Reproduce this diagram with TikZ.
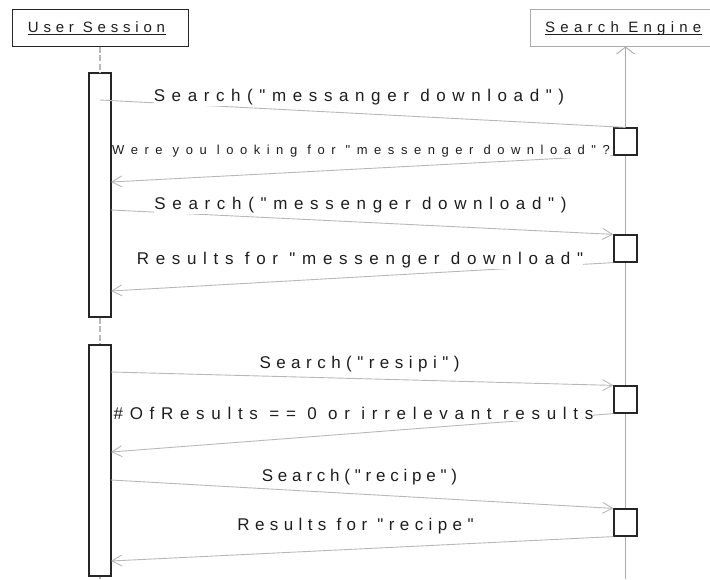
\documentclass[tikz,border=0pt]{standalone}
\usepackage{fontspec}
\setmainfont{Liberation Sans}
\newfontfamily\lblfont{Liberation Sans}
\usetikzlibrary{arrows.meta}
\definecolor{msggray}{HTML}{B8B8B8}
\definecolor{lifegray}{HTML}{ABABAB}
\definecolor{txt}{HTML}{1E1E1E}
\newcommand\lsset[1]{\addfontfeature{LetterSpace=#1}}
\tikzset{
  msg/.style={draw=msggray, line width=0.9pt},
  tipped/.style={-{Straight Barb[length=10pt,width=11pt,line width=0.9pt]}},
  lbl/.style={fill=white, inner xsep=0pt, inner ysep=1.5pt, anchor=base, text=txt,
    font=\lblfont\fontsize{17}{20}\selectfont},
  smalllbl/.style={lbl, font=\lblfont\fontsize{13}{15}\selectfont},
  act/.style={draw=black!85, fill=white, line width=1.2pt, minimum width=22pt, inner sep=0pt},
  headbox/.style={line width=1pt, inner sep=0pt, minimum height=37pt},
  headtxt/.style={inner sep=0pt, text=txt, anchor=base west, font=\lblfont\fontsize{15}{18}\selectfont},
  life/.style={draw=lifegray, line width=1.1pt},
  dashlife/.style={draw=msggray, line width=2.2pt, dash pattern=on 6pt off 2.5pt}
}
\begin{document}
\begin{tikzpicture}[x=1pt,y=-1pt]
\useasboundingbox (0,0) rectangle (710,579);
\clip (0,0) rectangle (710,579);
% header boxes
\node[headbox, draw=black!85, minimum width=176pt] (usb) at (100,27.5) {};
\node[headbox, draw=lifegray, minimum width=182pt] (seb) at (621,27.5) {};
\node[headtxt] (ust) at (27.7,32.3) {\lsset{32}User Session};
\node[headtxt] (set) at (545,32.3) {\lsset{35}Search Engine};
\draw[txt, line width=0.9pt] ([yshift=-2.2pt]ust.base west) -- ([yshift=-2.2pt,xshift=1pt]ust.base east);
\draw[txt, line width=0.9pt] ([yshift=-2.2pt]set.base west) -- ([yshift=-2.2pt]set.base east);
% coordinates
\coordinate (setop) at (625.5,46.5);
\coordinate (seend) at (625.5,579);
\coordinate (usend) at (100,579);
% activation boxes of User Session
\node[act, minimum height=244pt] (ua1) at (100,195) {};
\node[act, minimum height=231pt] (ua2) at (100,460.5) {};
% lifelines
\draw[life, {Straight Barb[length=7pt,width=18pt,line width=0.9pt]}-] (setop) -- (seend);
\draw[dashlife] (usb.south) -- (ua1.north);
\draw[dashlife] (ua1.south) -- (ua2.north);
\draw[dashlife] (ua2.south) -- (usend);
% activation boxes of Search Engine
\node[act, minimum width=23pt, minimum height=27pt] (e1) at (625.5,141.5) {};
\node[act, minimum width=23pt, minimum height=27pt] (e2) at (625.5,248.5) {};
\node[act, minimum width=23pt, minimum height=27pt] (e3) at (625.5,399.5) {};
\node[act, minimum width=23pt, minimum height=27pt] (e4) at (625.5,522.5) {};
% message endpoints
\coordinate (m1s) at (100,100);
\coordinate (m2e) at (111,182);
\coordinate (m3s) at (111,210);
\coordinate (m4e) at (111,291);
\coordinate (m5s) at (111,372);
\coordinate (m6e) at (111,452);
\coordinate (m7s) at (111,480);
\coordinate (m8e) at (111,561);
% messages
\draw[msg] (m1s) -- (e1.north);
\draw[msg, tipped] (e1.south west) -- (m2e);
\draw[msg, tipped] (m3s) -- (e2.north west);
\draw[msg, tipped] (e2.south west) -- (m4e);
\draw[msg, tipped] (m5s) -- (e3.north west);
\draw[msg, tipped] (e3.south west) -- (m6e);
\draw[msg, tipped] (m7s) -- (e4.north west);
\draw[msg, tipped] (e4.south west) -- (m8e);
% labels
\node[lbl] (l1) at (359,101) {\lsset{38.8}Search("messanger download")};
\node[smalllbl] (l2) at (361,154) {\lsset{50.2}Were you looking for "messenger download"?};
\node[lbl] (l3) at (360.5,209) {\lsset{39.2}Search("messenger download")};
\node[lbl] (l4) at (360,264) {\lsset{39.2}Results for "messenger download"};
\node[lbl] (l5) at (359.5,368) {\lsset{32.2}Search("resipi")};
\node[lbl] (l6) at (353.5,419) {\lsset{39.4}\#OfResults == 0 or irrelevant results};
\node[lbl] (l7) at (359.5,481) {\lsset{28.1}Search("recipe")};
\node[lbl] (l8) at (355.5,530) {\lsset{31.8}Results for "recipe"};
\end{tikzpicture}
\end{document}
